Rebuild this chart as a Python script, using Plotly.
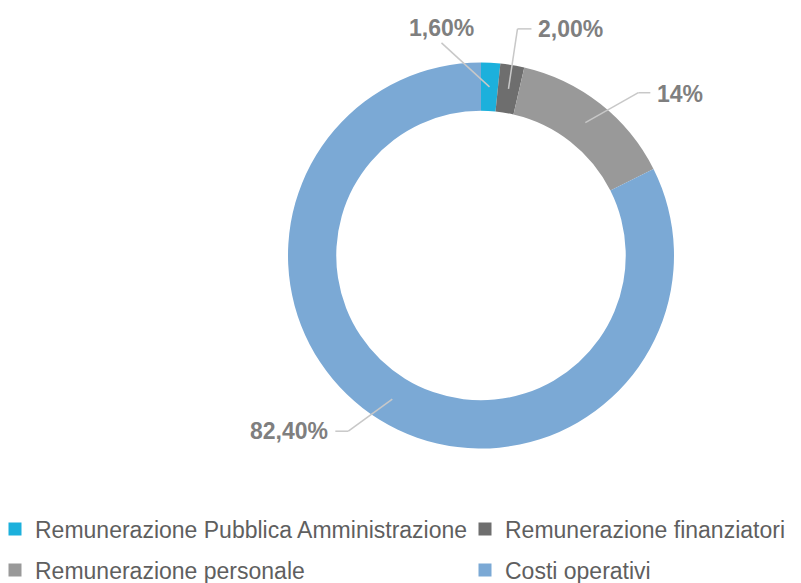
import math
import plotly.graph_objects as go

# ---------------- data ----------------
categories = [
    "Remunerazione Pubblica Amministrazione",
    "Remunerazione finanziatori",
    "Remunerazione personale",
    "Costi operativi",
]
values = [1.6, 2.0, 14.0, 82.4]
value_labels = ["1,60%", "2,00%", "14%", "82,40%"]
colors = ["#1cb0dc", "#6e6e6e", "#999999", "#7ba9d5"]

# ---------------- style / layout ----------------
W, H = 801, 583
pie_left, pie_right, pie_top, pie_bottom = 288, 674, 61, 450
cx = (pie_left + pie_right) / 2
cy = (pie_top + pie_bottom) / 2
r_outer = min(pie_right - pie_left, pie_bottom - pie_top) / 2
hole = 0.75
r_mid = r_outer * (1 + hole) / 2

# one legend box per entry: (left x, centre y) in pixels
legend_names = ["legend", "legend2", "legend3", "legend4"]
legend_pos = [(-5, 529), (465, 529), (-5, 570), (465, 570)]

# label leader style: elbow offset from ring point, horizontal tail length, text anchor
label_style = [
    dict(elbow=(-48, -44), tail=0, anchor="center", text_dy=-15),
    dict(elbow=(9, -60), tail=14, anchor="left", text_dy=0),
    dict(elbow=(53, -30), tail=12, anchor="left", text_dy=1),
    dict(elbow=(-44, 32), tail=-13, anchor="right", text_dy=0),
]

LABEL_COLOR = "#7f7f7f"
LINE_COLOR = "#c8c8c8"
LEGEND_COLOR = "#5f5f5f"
FONT = "Liberation Sans, Arial, sans-serif"


def px(x):
    return x / W


def py(y):
    return 1 - y / H


fig = go.Figure()
fig.add_trace(
    go.Pie(
        labels=categories,
        values=values,
        hole=hole,
        sort=False,
        direction="clockwise",
        rotation=0,
        textinfo="none",
        marker=dict(colors=colors, line=dict(width=0)),
        domain=dict(x=[px(pie_left), px(pie_right)], y=[py(pie_bottom), py(pie_top)]),
        showlegend=False,
        hoverinfo="label+percent",
    )
)

# legend entries
for cat, col, lg in zip(categories, colors, legend_names):
    fig.add_trace(
        go.Scatter(
            x=[None], y=[None], mode="markers", name=cat,
            marker=dict(symbol="square", size=13, color=col),
            legend=lg, showlegend=True, hoverinfo="skip",
        )
    )

# data labels with leader lines computed from slice angles
total = sum(values)
cum = 0.0
shapes = []
annotations = []
for v, lab, st in zip(values, value_labels, label_style):
    mid = (cum + v / 2) / total * 2 * math.pi
    cum += v
    sx = cx + r_mid * math.sin(mid)
    sy = cy - r_mid * math.cos(mid)
    ex = sx + st["elbow"][0]
    ey = sy + st["elbow"][1]
    shapes.append(dict(type="line", xref="paper", yref="paper",
                       x0=px(sx), y0=py(sy), x1=px(ex), y1=py(ey),
                       line=dict(color=LINE_COLOR, width=1.5)))
    tx = ex + st["tail"]
    if st["tail"]:
        shapes.append(dict(type="line", xref="paper", yref="paper",
                           x0=px(ex), y0=py(ey), x1=px(tx), y1=py(ey),
                           line=dict(color=LINE_COLOR, width=1.5)))
    gap = 5 if st["anchor"] == "left" else (-5 if st["anchor"] == "right" else 0)
    annotations.append(dict(
        x=px(tx + gap), y=py(ey + st["text_dy"]), xref="paper", yref="paper",
        text=lab, showarrow=False, xanchor=st["anchor"], yanchor="middle",
        font=dict(family=FONT, size=23, color=LABEL_COLOR, weight="bold"),
    ))

legend_layout = {}
for name, (lx, ly) in zip(legend_names, legend_pos):
    legend_layout[name] = dict(
        x=px(lx), y=py(ly), xanchor="left", yanchor="middle",
        orientation="h",
        font=dict(family=FONT, size=23, color=LEGEND_COLOR),
        bgcolor="rgba(0,0,0,0)", borderwidth=0,
        itemclick=False, itemdoubleclick=False,
    )

fig.update_layout(
    width=W, height=H,
    margin=dict(l=0, r=0, t=0, b=0, autoexpand=False),
    paper_bgcolor="white", plot_bgcolor="white",
    xaxis=dict(visible=False), yaxis=dict(visible=False),
    shapes=shapes, annotations=annotations,
    **legend_layout,
)

fig.write_html(
    "out.html",
    config={"displayModeBar": False},
    post_script="document.body.style.margin='0';document.body.style.overflow='hidden';",
)
